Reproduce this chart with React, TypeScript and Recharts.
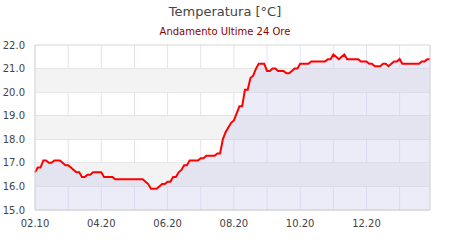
import {
  ComposedChart,
  Area,
  XAxis,
  YAxis,
  CartesianGrid,
  ReferenceArea,
  ReferenceLine,
} from "recharts";

// 5-minute samples; the first reading is at 02.10, then 02.25, 02.30, ...
const TEMPS = [
  16.6, 16.8, 16.8, 17.1, 17.1, 17.0, 17.0, 17.1, 17.1, 17.1,
  17.0, 16.9, 16.9, 16.8, 16.7, 16.6, 16.6, 16.4, 16.4, 16.5,
  16.5, 16.6, 16.6, 16.6, 16.6, 16.4, 16.4, 16.4, 16.4, 16.3,
  16.3, 16.3, 16.3, 16.3, 16.3, 16.3, 16.3, 16.3, 16.3, 16.3,
  16.2, 16.1, 15.9, 15.9, 15.9, 16.0, 16.1, 16.1, 16.2, 16.2,
  16.4, 16.4, 16.6, 16.7, 16.9, 16.9, 17.1, 17.1, 17.1, 17.1,
  17.2, 17.2, 17.3, 17.3, 17.3, 17.3, 17.4, 17.4, 18.0, 18.3,
  18.5, 18.7, 18.8, 19.1, 19.4, 19.4, 20.1, 20.1, 20.6, 20.7,
  21.0, 21.2, 21.2, 21.2, 20.9, 20.9, 21.0, 21.0, 20.9, 20.9,
  20.9, 20.8, 20.8, 20.9, 21.0, 21.0, 21.2, 21.2, 21.2, 21.2,
  21.3, 21.3, 21.3, 21.3, 21.3, 21.3, 21.4, 21.4, 21.6, 21.5,
  21.4, 21.5, 21.6, 21.4, 21.4, 21.4, 21.4, 21.4, 21.3, 21.3,
  21.3, 21.2, 21.2, 21.1, 21.1, 21.1, 21.2, 21.2, 21.1, 21.2,
  21.3, 21.3, 21.4, 21.2, 21.2, 21.2, 21.2, 21.2, 21.2, 21.2,
  21.3, 21.3, 21.4, 21.4,
];

const pad = (n: number) => String(n).padStart(2, "0");
const TIMES = TEMPS.map((_, i) => {
  if (i === 0) return "02.10";
  const m = 2 * 60 + 20 + i * 5;
  return `${pad(Math.floor(m / 60))}.${pad(m % 60)}`;
});

const GRID_TICKS = TIMES.filter((_, i) => i % 12 === 0);
const Y_TICKS = [15, 16, 17, 18, 19, 20, 21, 22];
const BANDS = [
  [16, 17],
  [18, 19],
  [20, 21],
];

const data = TIMES.map((t, i) => ({ time: t, temp: TEMPS[i] }));

const FONT = "'DejaVu Sans', Verdana, sans-serif";

export default function App() {
  return (
    <div
      style={{
        position: "absolute",
        left: 0,
        top: 0,
        width: 450,
        height: 240,
        background: "#fff",
        fontFamily: FONT,
      }}
    >
      <div
        style={{
          position: "absolute",
          top: 4,
          width: 450,
          textAlign: "center",
          fontSize: 13,
          color: "#444",
        }}
      >
        Temperatura [°C]
      </div>
      <div
        style={{
          position: "absolute",
          top: 26,
          width: 450,
          textAlign: "center",
          fontSize: 10,
          color: "#8b0000",
        }}
      >
        Andamento Ultime 24 Ore
      </div>
      <ComposedChart
        width={450}
        height={240}
        data={data}
        margin={{ top: 45, right: 20, left: 0, bottom: 0 }}
        style={{ position: "absolute", left: 0, top: 0 }}
      >
        {BANDS.map(([a, b]) => (
          <ReferenceArea
            key={a}
            y1={a}
            y2={b}
            fill="#f3f3f3"
            fillOpacity={1}
            stroke="none"
          />
        ))}
        <CartesianGrid stroke="#e2e2f6" horizontal={false} />
        <CartesianGrid stroke="#d6d6d6" vertical={false} />
        <XAxis
          dataKey="time"
          ticks={GRID_TICKS}
          interval={0}
          height={30}
          tickLine={false}
          tickSize={8}
          axisLine={{ stroke: "#d6d6d6" }}
          tickFormatter={(v: string, i: number) => (i % 2 === 0 ? v : "")}
          tick={{ fill: "#444", fontSize: 10, fontFamily: FONT }}
        />
        <YAxis
          domain={[15, 22]}
          ticks={Y_TICKS}
          width={35}
          tickLine={false}
          tickSize={8}
          axisLine={{ stroke: "#d6d6d6" }}
          tickFormatter={(v: number) => v.toFixed(1)}
          tick={{ fill: "#444", fontSize: 10, fontFamily: FONT }}
        />
        <ReferenceLine x={TIMES[TIMES.length - 1]} stroke="#d6d6d6" />
        <Area
          type="linear"
          dataKey="temp"
          stroke="#ff0000"
          strokeWidth={2}
          fill="#c8c8eb"
          fillOpacity={0.35}
          dot={false}
          activeDot={false}
          isAnimationActive={false}
        />
      </ComposedChart>
    </div>
  );
}
